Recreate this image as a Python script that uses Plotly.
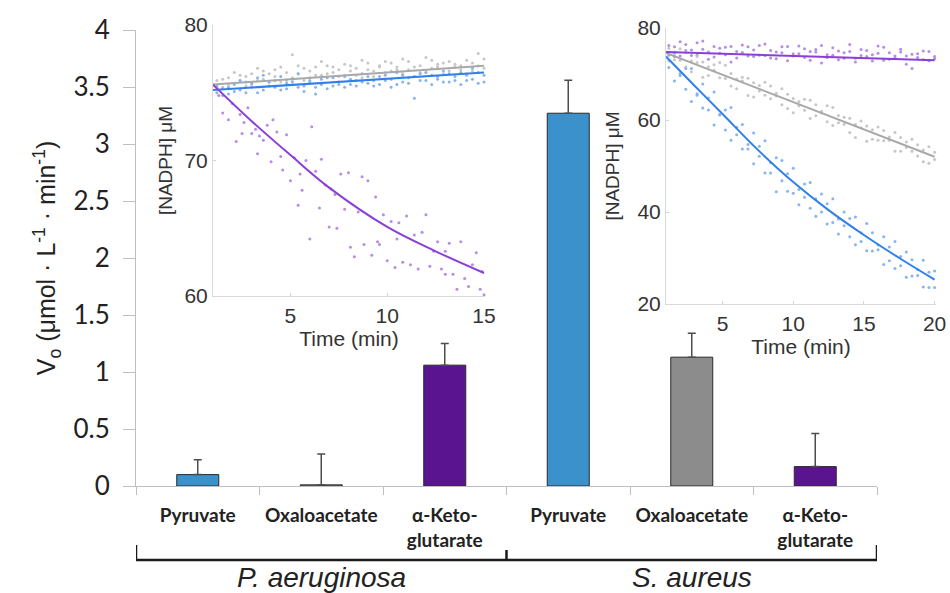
import plotly.graph_objects as go

# ---------------- main bar chart data ----------------
categories = ["Pyruvate", "Oxaloacetate", "α-Keto-<br>glutarate",
              "Pyruvate", "Oxaloacetate", "α-Keto-<br>glutarate"]
v0_values = [0.10, 0.01, 1.06, 3.27, 1.13, 0.17]
v0_errors = [0.13, 0.27, 0.19, 0.29, 0.21, 0.29]
bar_colors = ["#3a91cb", "#8c8c8c", "#5a1490", "#3a91cb", "#8c8c8c", "#5a1490"]
groups = ["P. aeruginosa", "S. aureus"]
y_ticks = [0, 0.5, 1, 1.5, 2, 2.5, 3, 3.5, 4]

# ---------------- inset 1 (P. aeruginosa) ----------------
t1 = [1.2, 1.5, 1.8, 2.1, 2.4, 2.7, 3.0, 3.3, 3.6, 3.9, 4.2, 4.5, 4.8, 5.1, 5.4, 5.7,
      6.0, 6.3, 6.6, 6.9, 7.2, 7.5, 7.8, 8.1, 8.4, 8.7, 9.0, 9.3, 9.6, 9.9, 10.2, 10.5,
      10.8, 11.1, 11.4, 11.7, 12.0, 12.3, 12.6, 12.9, 13.2, 13.5, 13.8, 14.1, 14.4, 14.7, 15.0]
gray1_a = [75.9, 75.4, 76.1, 75.7, 76.3, 75.5, 76.4, 75.9, 76.6, 75.8, 76.2, 76.9, 75.9, 77.8, 76.4, 76.8,
           76.1, 76.9, 76.3, 77.0, 76.5, 76.2, 77.1, 76.6, 76.3, 77.4, 76.7, 76.2, 77.0, 76.5, 77.2, 76.7,
           76.4, 77.3, 76.9, 76.5, 77.6, 76.8, 77.1, 76.4, 77.3, 76.9, 77.0, 76.4, 77.2, 77.9, 76.8]
gray1_b = [75.4, 76.0, 75.6, 76.5, 75.9, 76.2, 75.6, 76.8, 76.0, 76.4, 76.7, 75.8, 76.5, 76.1, 77.0, 75.9,
           76.6, 76.3, 77.3, 76.4, 76.9, 76.7, 76.3, 77.0, 76.8, 76.1, 77.2, 76.6, 76.9, 77.3, 76.6, 76.9,
           77.5, 76.7, 76.2, 77.0, 76.5, 77.4, 76.9, 77.2, 76.6, 77.1, 76.7, 77.4, 76.6, 77.0, 77.5]
blue1_a = [75.0, 75.3, 74.9, 75.6, 75.2, 75.8, 75.4, 75.0, 76.3, 75.5, 75.9, 75.2, 75.7, 76.0, 75.4, 75.5,
           75.9, 74.9, 75.6, 76.1, 75.5, 75.8, 76.2, 75.6, 75.9, 76.4, 75.7, 75.5, 76.2, 75.9, 75.4, 76.5,
           75.8, 76.1, 74.6, 76.4, 75.9, 76.3, 76.0, 76.6, 75.8, 76.2, 76.5, 75.9, 76.8, 75.7, 76.3]
blue1_b = [75.5, 74.8, 75.4, 75.1, 75.9, 75.0, 75.7, 76.1, 75.2, 75.8, 75.4, 76.2, 75.3, 75.8, 76.4, 75.1,
           75.8, 75.4, 76.0, 75.3, 76.1, 75.6, 75.4, 76.0, 75.5, 75.8, 76.2, 75.9, 75.6, 76.3, 76.0, 75.6,
           76.3, 75.7, 76.2, 75.9, 76.5, 75.6, 76.2, 75.8, 76.4, 75.9, 75.6, 76.3, 76.0, 76.5, 75.8]
purple1_t = [1.3, 1.5, 1.8, 2.0, 2.2, 2.4, 2.5, 2.6, 2.8, 3.0, 3.2, 3.3, 3.4, 3.6, 3.8, 4.0, 4.1, 4.3, 4.5, 4.6,
             4.8, 5.0, 5.2, 5.4, 5.5, 5.6, 5.8, 6.0, 6.1, 6.3, 6.5, 6.6, 6.8, 7.0, 7.1, 7.3, 7.4, 7.6, 7.8, 8.0,
             8.1, 8.3, 8.5, 8.7, 8.8, 9.0, 9.2, 9.4, 9.5, 9.6, 9.8, 10.0, 10.2, 10.4, 10.5, 10.6, 10.8, 11.0, 11.2, 11.4,
             11.6, 11.8, 12.0, 12.2, 12.4, 12.6, 12.8, 13.0, 13.0, 13.2, 13.4, 13.6, 13.8, 14.0, 14.2, 14.4, 14.6, 14.8, 14.9, 15.0]
purple1_y = [74.8, 73.5, 73.0, 74.2, 71.4, 73.4, 72.0, 72.8, 73.9, 72.0, 72.3, 70.5, 71.8, 71.5, 72.6, 69.9, 73.0, 72.1, 70.3, 69.3,
             71.9, 68.5, 70.2, 66.7, 69.0, 67.8, 70.0, 64.2, 72.5, 69.2, 66.5, 70.1, 68.2, 65.1, 67.9, 67.5, 65.0, 69.0, 66.4, 69.1,
             63.6, 62.9, 66.2, 68.8, 63.8, 68.5, 63.0, 67.3, 64.0, 63.8, 66.0, 62.6, 65.5, 62.1, 64.2, 65.4, 62.5, 65.9, 62.3, 64.5,
             62.0, 64.7, 66.0, 62.2, 63.3, 64.0, 62.0, 61.6, 63.3, 63.9, 61.6, 60.5, 64.0, 61.3, 60.7, 62.3, 63.2, 60.5, 61.8, 60.1]
fit1_gray_t = [1, 15]
fit1_gray_y = [75.6, 77.0]
fit1_blue_t = [1, 15]
fit1_blue_y = [75.2, 76.5]
fit1_purple_t = [1, 3, 5, 7, 10, 12.5, 15]
fit1_purple_y = [75.6, 72.9, 70.4, 68.0, 65.1, 63.3, 61.7]

# ---------------- inset 2 (S. aureus) ----------------
t2 = [1.2, 1.6, 2.0, 2.4, 2.8, 3.2, 3.6, 4.0, 4.4, 4.8, 5.2, 5.6, 6.0, 6.4, 6.8, 7.2, 7.6, 8.0, 8.4, 8.8,
      9.2, 9.6, 10.0, 10.4, 10.8, 11.2, 11.6, 12.0, 12.4, 12.8, 13.2, 13.6, 14.0, 14.4, 14.8, 15.2, 15.6, 16.0,
      16.4, 16.8, 17.2, 17.6, 18.0, 18.4, 18.8, 19.2, 19.6, 20.0]
purple2_a = [76.2, 73.8, 77.0, 75.1, 74.0, 76.8, 75.4, 73.2, 76.0, 74.5, 75.8, 72.6, 74.9, 76.3, 73.9, 75.2,
             74.1, 76.5, 73.5, 74.8, 75.9, 72.9, 74.4, 76.1, 73.6, 74.9, 75.3, 72.4, 74.2, 75.7, 73.1, 74.6,
             76.4, 73.4, 74.0, 75.1, 72.8, 74.5, 75.8, 73.2, 73.9, 75.4, 72.1, 74.3, 73.6, 75.0, 72.9, 73.8]
purple2_b = [74.6, 75.9, 73.9, 76.4, 75.2, 74.1, 77.2, 74.8, 73.7, 75.6, 74.2, 76.0, 73.5, 74.7, 75.9, 73.8,
             76.2, 74.0, 75.1, 73.3, 74.6, 76.0, 73.9, 74.4, 75.5, 73.0, 74.8, 76.2, 73.6, 74.1, 75.0, 73.4,
             74.9, 72.6, 75.3, 73.8, 74.2, 76.1, 73.0, 74.6, 73.5, 74.8, 73.9, 71.2, 74.4, 73.1, 74.9, 73.3]
gray2_a = [75.6, 73.1, 75.5, 71.5, 72.8, 73.8, 69.3, 71.6, 72.0, 69.2, 71.9, 67.4, 68.9, 69.3, 65.3, 68.1,
           66.3, 68.2, 64.6, 65.8, 66.8, 62.5, 64.7, 63.1, 64.5, 60.3, 63.3, 61.6, 59.6, 62.7, 59.4, 60.6,
           57.3, 59.0, 59.8, 55.4, 57.9, 55.6, 57.7, 55.6, 57.3, 53.2, 55.2, 53.2, 54.6, 50.9, 54.2, 51.4]
gray2_b = [72.8, 74.8, 73.0, 74.7, 70.5, 72.5, 72.6, 69.7, 70.8, 72.5, 69.0, 70.1, 66.8, 68.5, 69.1, 65.0,
           67.5, 65.4, 67.4, 65.2, 63.3, 65.6, 61.6, 64.0, 62.1, 64.3, 60.9, 61.9, 63.1, 58.8, 61.0, 59.1,
           60.4, 56.2, 58.3, 58.7, 55.8, 58.5, 55.5, 56.3, 53.2, 56.2, 54.0, 55.8, 52.2, 53.5, 50.6, 53.0]
blue2_a = [74.1, 74.5, 70.1, 71.2, 71.2, 65.7, 67.8, 64.8, 66.1, 61.1, 62.2, 62.7, 58.4, 59.0, 54.7, 57.2,
           54.3, 55.5, 50.7, 51.8, 51.2, 48.3, 49.5, 44.9, 46.1, 46.4, 42.9, 43.9, 41.8, 42.9, 38.5, 40.0,
           38.6, 38.9, 35.5, 37.5, 35.5, 32.8, 34.6, 32.4, 33.6, 30.3, 31.3, 29.6, 27.5, 29.5, 26.9, 27.2]
blue2_b = [71.4, 68.5, 69.7, 66.7, 64.0, 65.4, 62.6, 62.2, 58.9, 61.2, 57.8, 55.6, 56.8, 53.7, 53.7, 50.5,
           52.1, 48.5, 48.5, 44.4, 46.8, 44.5, 44.1, 41.6, 43.2, 40.8, 39.1, 40.0, 37.4, 37.7, 35.2, 37.0,
           34.6, 32.9, 33.6, 31.6, 31.5, 31.8, 28.6, 29.4, 27.7, 28.3, 25.8, 26.1, 26.2, 23.7, 23.6, 23.6]
fit2_purple_t = [1, 20]
fit2_purple_y = [74.8, 73.0]
fit2_gray_t = [1, 20]
fit2_gray_y = [74.6, 52.0]
fit2_blue_t = [1, 3, 5, 7.5, 10, 12.5, 15, 17.5, 20]
fit2_blue_y = [73.8, 67.5, 61.3, 53.5, 46.5, 40.4, 35.0, 30.0, 25.3]

W, H = 950, 593
def px(x):
    return x / W
def py(y):
    return (H - y) / H

DOT_P, DOT_G, DOT_B = "#b58ce8", "#c6c6c6", "#86b4f0"
LINE_P, LINE_G, LINE_B = "#8a3fd8", "#a8a8a8", "#2f80ea"

fig = go.Figure()

# main bars
fig.add_trace(go.Bar(
    x=list(range(len(categories))), y=v0_values, width=0.34,
    marker=dict(color=bar_colors, line=dict(color="#2a2a2a", width=1)),
    error_y=dict(type="data", array=v0_errors, arrayminus=[0] * len(v0_errors),
                 symmetric=False, color="#4d4d4d", thickness=1.5, width=4),
    showlegend=False, xaxis="x", yaxis="y"))

def dots(x, y, color, xa, ya):
    fig.add_trace(go.Scatter(x=x, y=y, mode="markers", marker=dict(size=3, color=color),
                             showlegend=False, xaxis=xa, yaxis=ya, cliponaxis=False))

def fit(x, y, color, xa, ya):
    fig.add_trace(go.Scatter(x=x, y=y, mode="lines", line=dict(color=color, width=2, shape="spline"),
                             showlegend=False, xaxis=xa, yaxis=ya))

# inset 1
dots(t1, gray1_a, DOT_G, "x2", "y2")
dots(t1, gray1_b, DOT_G, "x2", "y2")
dots(t1, blue1_a, DOT_B, "x2", "y2")
dots(t1, blue1_b, DOT_B, "x2", "y2")
dots(purple1_t, purple1_y, DOT_P, "x2", "y2")
fit(fit1_gray_t, fit1_gray_y, LINE_G, "x2", "y2")
fit(fit1_blue_t, fit1_blue_y, LINE_B, "x2", "y2")
fit(fit1_purple_t, fit1_purple_y, LINE_P, "x2", "y2")

# inset 2
dots(t2, purple2_a, DOT_P, "x3", "y3")
dots(t2, purple2_b, DOT_P, "x3", "y3")
dots(t2, gray2_a, DOT_G, "x3", "y3")
dots(t2, gray2_b, DOT_G, "x3", "y3")
dots(t2, blue2_a, DOT_B, "x3", "y3")
dots(t2, blue2_b, DOT_B, "x3", "y3")
fit(fit2_gray_t, fit2_gray_y, LINE_G, "x3", "y3")
fit(fit2_blue_t, fit2_blue_y, LINE_B, "x3", "y3")
fit(fit2_purple_t, fit2_purple_y, LINE_P, "x3", "y3")

AX = "#bfbfbf"
inset_font = dict(family="Liberation Sans, Arial, sans-serif", size=21, color="#333333")
inset_title_font = dict(family="Liberation Sans, Arial, sans-serif", size=19, color="#333333")

fig.update_layout(
    width=W, height=H, template="none",
    margin=dict(l=0, r=0, t=0, b=0),
    paper_bgcolor="white", plot_bgcolor="rgba(0,0,0,0)",
    showlegend=False,
    xaxis=dict(domain=[px(136), px(877)], range=[-0.5, 5.5], automargin=False,
               tickmode="array", tickvals=list(range(len(categories))), ticktext=categories,
               ticks="", showline=True, linecolor=AX, linewidth=1, showgrid=False, zeroline=False,
               tickfont=dict(family="Lato, Open Sans, sans-serif", size=19, color="#222222", weight="bold"),
               ticklabelstandoff=12,
               minor=dict(tickmode="array", tickvals=[-0.5, 0.5, 1.5, 2.5, 3.5, 4.5, 5.5],
                          ticks="outside", ticklen=8, tickcolor=AX, tickwidth=1, showgrid=False)),
    yaxis=dict(domain=[py(486), py(30)], range=[0, 4], automargin=False,
               tickmode="array", tickvals=y_ticks,
               ticks="outside", ticklen=12, tickcolor=AX, tickwidth=1,
               showline=True, linecolor=AX, linewidth=1, showgrid=False, zeroline=False,
               tickfont=dict(family="Lato, Open Sans, sans-serif", size=26, color="#222222"),
               ticklabelstandoff=8,
               title=dict(text="V<sub>o</sub> (μmol · L<sup>-1</sup> · min<sup>-1</sup>)",
                          font=dict(family="Liberation Sans, Arial, sans-serif", size=25, color="#222222"),
                          standoff=10)),
    xaxis2=dict(domain=[px(213), px(485)], range=[1, 15.05], anchor="y2", automargin=False,
                tickvals=[5, 10, 15], ticks="inside", ticklen=3, tickcolor="#d6d6d6",
                showline=True, linecolor="#d9d9d9", showgrid=False, zeroline=False,
                tickfont=inset_font, ticklabelstandoff=1,
                title=dict(text="Time (min)", font=inset_font, standoff=0)),
    yaxis2=dict(domain=[py(296), py(25)], range=[60, 80], anchor="x2", automargin=False,
                tickvals=[60, 70, 80], ticks="inside", ticklen=3, tickcolor="#d6d6d6",
                showline=True, linecolor="#d9d9d9", showgrid=False, zeroline=False,
                tickfont=inset_font,
                title=dict(text="[NADPH] μM", font=inset_title_font, standoff=6)),
    xaxis3=dict(domain=[px(666), px(936)], range=[1, 20.1], anchor="y3", automargin=False,
                tickvals=[5, 10, 15, 20], ticks="inside", ticklen=3, tickcolor="#d6d6d6",
                showline=True, linecolor="#d9d9d9", showgrid=False, zeroline=False,
                tickfont=inset_font, ticklabelstandoff=1,
                title=dict(text="Time (min)", font=inset_font, standoff=0)),
    yaxis3=dict(domain=[py(304), py(28)], range=[20, 80], anchor="x3", automargin=False,
                tickvals=[20, 40, 60, 80], ticks="inside", ticklen=3, tickcolor="#d6d6d6",
                showline=True, linecolor="#d9d9d9", showgrid=False, zeroline=False,
                tickfont=inset_font,
                title=dict(text="[NADPH] μM", font=inset_title_font, standoff=12)),
)

# group brackets
BR = "#1a1a1a"
bracket_y, end_top, mid_top = py(560), py(545), py(550)
for x0, x1, y0, y1 in [(-0.5, 5.5, bracket_y, bracket_y),
                       (-0.5, -0.5, bracket_y, end_top),
                       (2.5, 2.5, bracket_y, mid_top),
                       (5.5, 5.5, bracket_y, end_top)]:
    fig.add_shape(type="line", xref="x", yref="paper", x0=x0, x1=x1, y0=y0, y1=y1,
                  line=dict(color=BR, width=2.5))

for gx, name in zip([1, 4], groups):
    fig.add_annotation(x=gx, y=py(577), xref="x", yref="paper", text=f"<i>{name}</i>",
                       showarrow=False, yanchor="middle",
                       font=dict(family="Liberation Sans, Arial, sans-serif", size=28, color="#222222"))

fig.write_html("out.html", config={"displayModeBar": False},
               post_script="document.body.style.margin='0';document.body.style.padding='0';")
